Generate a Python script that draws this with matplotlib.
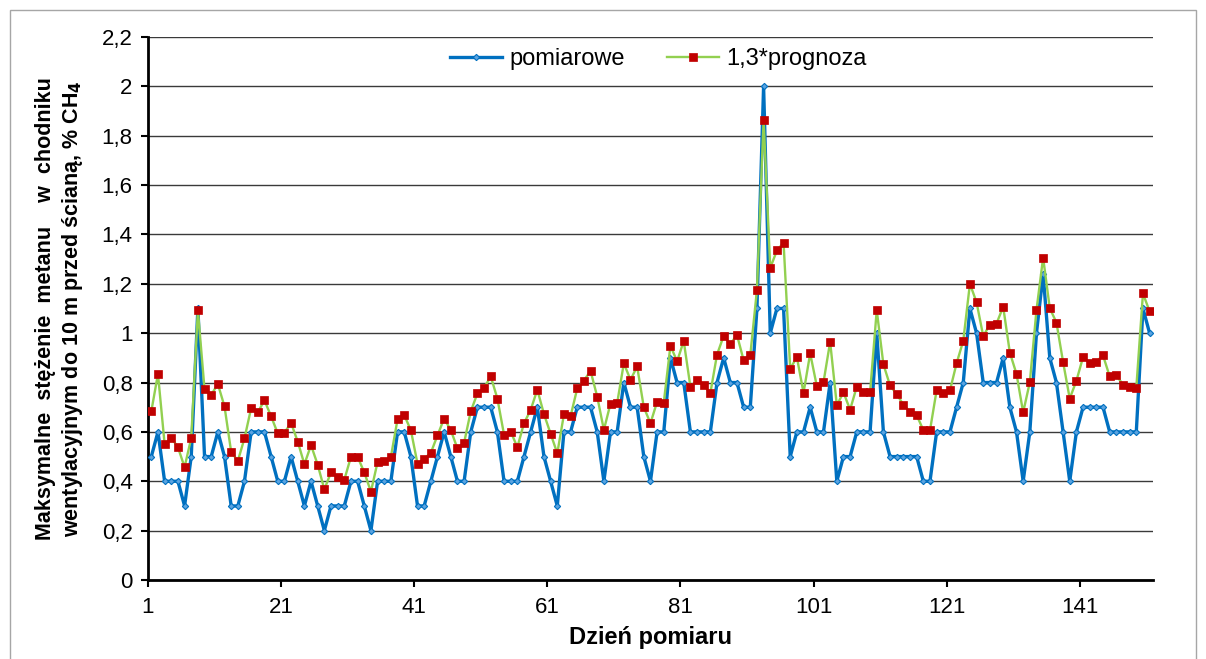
import matplotlib
matplotlib.use("Agg")
import matplotlib.pyplot as plt
from matplotlib.patches import Rectangle
import numpy as np

plt.rcParams['font.family'] = ['Liberation Sans', 'DejaVu Sans']

# measured maximum methane concentration, % CH4 (days 1..151)
pomiarowe = [
    0.5, 0.6, 0.4, 0.4, 0.4, 0.3, 0.5, 1.1, 0.5, 0.5,
    0.6, 0.5, 0.3, 0.3, 0.4, 0.6, 0.6, 0.6, 0.5, 0.4,
    0.4, 0.5, 0.4, 0.3, 0.4, 0.3, 0.2, 0.3, 0.3, 0.3,
    0.4, 0.4, 0.3, 0.2, 0.4, 0.4, 0.4, 0.6, 0.6, 0.5,
    0.3, 0.3, 0.4, 0.5, 0.6, 0.5, 0.4, 0.4, 0.6, 0.7,
    0.7, 0.7, 0.6, 0.4, 0.4, 0.4, 0.5, 0.6, 0.7, 0.5,
    0.4, 0.3, 0.6, 0.6, 0.7, 0.7, 0.7, 0.6, 0.4, 0.6,
    0.6, 0.8, 0.7, 0.7, 0.5, 0.4, 0.6, 0.6, 0.9, 0.8,
    0.8, 0.6, 0.6, 0.6, 0.6, 0.8, 0.9, 0.8, 0.8, 0.7,
    0.7, 1.1, 2.0, 1.0, 1.1, 1.1, 0.5, 0.6, 0.6, 0.7,
    0.6, 0.6, 0.8, 0.4, 0.5, 0.5, 0.6, 0.6, 0.6, 1.0,
    0.6, 0.5, 0.5, 0.5, 0.5, 0.5, 0.4, 0.4, 0.6, 0.6,
    0.6, 0.7, 0.8, 1.1, 1.0, 0.8, 0.8, 0.8, 0.9, 0.7,
    0.6, 0.4, 0.6, 1.0, 1.24, 0.9, 0.8, 0.6, 0.4, 0.6,
    0.7, 0.7, 0.7, 0.7, 0.6, 0.6, 0.6, 0.6, 0.6, 1.1,
    1.0,
]

# 1.3 x forecast
prognoza_13 = [
    0.683, 0.835, 0.551, 0.576, 0.538, 0.457, 0.575, 1.092, 0.772, 0.750,
    0.794, 0.703, 0.519, 0.482, 0.574, 0.696, 0.679, 0.728, 0.663, 0.594,
    0.597, 0.636, 0.561, 0.469, 0.546, 0.467, 0.367, 0.436, 0.418, 0.406,
    0.499, 0.499, 0.436, 0.358, 0.478, 0.481, 0.499, 0.651, 0.668, 0.607,
    0.471, 0.492, 0.515, 0.586, 0.654, 0.607, 0.533, 0.556, 0.683, 0.756,
    0.778, 0.825, 0.735, 0.589, 0.601, 0.538, 0.635, 0.689, 0.771, 0.672,
    0.592, 0.513, 0.671, 0.664, 0.776, 0.808, 0.847, 0.743, 0.608, 0.715,
    0.717, 0.878, 0.811, 0.865, 0.700, 0.635, 0.722, 0.718, 0.949, 0.886,
    0.968, 0.783, 0.810, 0.788, 0.757, 0.913, 0.989, 0.956, 0.993, 0.890,
    0.911, 1.175, 1.864, 1.264, 1.335, 1.367, 0.856, 0.903, 0.758, 0.918,
    0.785, 0.801, 0.965, 0.708, 0.760, 0.690, 0.783, 0.763, 0.761, 1.093,
    0.874, 0.788, 0.753, 0.710, 0.681, 0.668, 0.607, 0.606, 0.769, 0.756,
    0.768, 0.878, 0.969, 1.200, 1.125, 0.988, 1.035, 1.039, 1.107, 0.921,
    0.835, 0.679, 0.801, 1.093, 1.306, 1.101, 1.043, 0.883, 0.735, 0.807,
    0.903, 0.881, 0.885, 0.910, 0.825, 0.829, 0.792, 0.782, 0.778, 1.161,
    1.088,
]

dni = np.arange(1, len(pomiarowe) + 1)
x_labels = [1, 21, 41, 61, 81, 101, 121, 141]
y_ticks = [0, 0.2, 0.4, 0.6, 0.8, 1.0, 1.2, 1.4, 1.6, 1.8, 2.0, 2.2]

fig = plt.figure(figsize=(12.06, 6.59), dpi=100)
ax = fig.add_axes([0.1227, 0.1199, 0.8333, 0.8240])

# outer frame of the chart
fig.patches.append(Rectangle((0.008, -0.05), 0.984, 1.035, transform=fig.transFigure,
                             fill=False, edgecolor='#a6a6a6', linewidth=1.0))

ax.plot(dni, pomiarowe, color='#0070C0', linewidth=2.4, marker='D', markersize=3.2,
        markerfacecolor='#5BA3E0', markeredgecolor='#0070C0', markeredgewidth=0.8,
        label='pomiarowe', zorder=3)
ax.plot(dni, prognoza_13, color='#92D050', linewidth=1.7, marker='s', markersize=5.2,
        markerfacecolor='#C00000', markeredgecolor='#C00000', markeredgewidth=0.5,
        label='1,3*prognoza', zorder=4)

# categories sit between the tick marks, as in the original spreadsheet chart
ax.set_xlim(0.5, len(dni) + 0.5)
ax.set_xticks([k - 0.5 for k in x_labels])
ax.set_xticklabels([str(k) for k in x_labels])

ax.set_ylim(0, 2.2)
ax.set_yticks(y_ticks)
ax.set_yticklabels([('%g' % v).replace('.', ',') for v in y_ticks])

ax.grid(axis='y', color='#3a3a3a', linewidth=1.0)
ax.set_axisbelow(True)

for side in ['top', 'right']:
    ax.spines[side].set_visible(False)
for side in ['left', 'bottom']:
    ax.spines[side].set_linewidth(2.0)
    ax.spines[side].set_color('black')

ax.tick_params(axis='both', direction='out', length=5, width=1.5, labelsize=16, colors='black')
ax.tick_params(axis='x', pad=7)
ax.tick_params(axis='y', pad=6)

ax.set_xlabel('Dzień pomiaru', fontsize=17, fontweight='bold', labelpad=6)
ax.set_ylabel('Maksymalne  stężenie  metanu    w  chodniku\n'
              'wentylacyjnym do 10 m przed ścianą, % CH$_\\mathbf{4}$',
              fontsize=15.5, fontweight='bold', labelpad=12, linespacing=1.22)

ax.legend(loc='center', bbox_to_anchor=(0.508, 0.959), ncol=2, frameon=False,
          fontsize=17, handlelength=2.2, columnspacing=1.8, handletextpad=0.3)

fig.savefig('out.png', dpi=100)
